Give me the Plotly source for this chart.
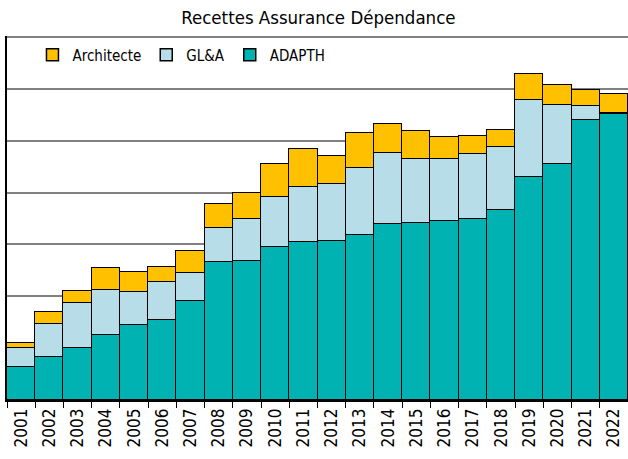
import plotly.graph_objects as go

# years on the x axis
years = [str(y) for y in range(2001, 2023)]

# stacked contributions, in gridline units
adapth = [0.63, 0.82, 1.00, 1.25, 1.44, 1.55, 1.90, 2.66, 2.69, 2.96, 3.05,
          3.06, 3.19, 3.40, 3.42, 3.46, 3.49, 3.67, 4.31, 4.55, 5.40, 5.51]
gla = [0.37, 0.64, 0.87, 0.87, 0.64, 0.73, 0.54, 0.65, 0.80, 0.96, 1.06,
       1.10, 1.29, 1.36, 1.22, 1.19, 1.26, 1.20, 1.47, 1.14, 0.27, 0.02]
architecte = [0.09, 0.23, 0.24, 0.42, 0.39, 0.28, 0.44, 0.47, 0.51, 0.64, 0.74,
              0.55, 0.67, 0.56, 0.55, 0.42, 0.34, 0.34, 0.50, 0.39, 0.31, 0.37]

font_family = "DejaVu Sans Condensed, sans-serif"

fig = go.Figure()
for name, vals, color in [("ADAPTH", adapth, "#00B2B2"),
                          ("GL&A", gla, "#B7DDE8"),
                          ("Architecte", architecte, "#FFC000")]:
    fig.add_trace(go.Bar(x=years, y=vals, name=name, marker_color=color,
                         marker_line=dict(color="black", width=1.5)))

fig.update_layout(
    width=628, height=459,
    barmode="stack", bargap=0,
    plot_bgcolor="white", paper_bgcolor="white",
    font=dict(family=font_family, color="black", size=16),
    title=dict(text="Recettes Assurance Dépendance", x=0.507, xanchor="center",
               y=0.961, yanchor="middle", font=dict(size=18.5)),
    margin=dict(l=7, r=0, t=36, b=59, autoexpand=False),
    legend=dict(orientation="h", traceorder="reversed", x=0.041, y=0.948,
                xanchor="left", yanchor="middle", bgcolor="rgba(0,0,0,0)",
                font=dict(size=15)),
)
fig.update_xaxes(showline=True, linecolor="black", linewidth=1.5, automargin=False,
                 ticks="outside", ticklen=6, tickcolor="black", tickson="boundaries",
                 tickangle=-90, tickfont=dict(size=17))
fig.update_yaxes(range=[0, 7.02], dtick=1, showticklabels=False, automargin=False,
                 showgrid=True, gridcolor="#808080", gridwidth=1.5,
                 showline=True, linecolor="black", linewidth=1.5, zeroline=False)

# drop the page's default body margin so the figure sits at the window origin
fig.write_html("out.html", config={"displayModeBar": False},
               post_script="document.body.style.margin='0';")
